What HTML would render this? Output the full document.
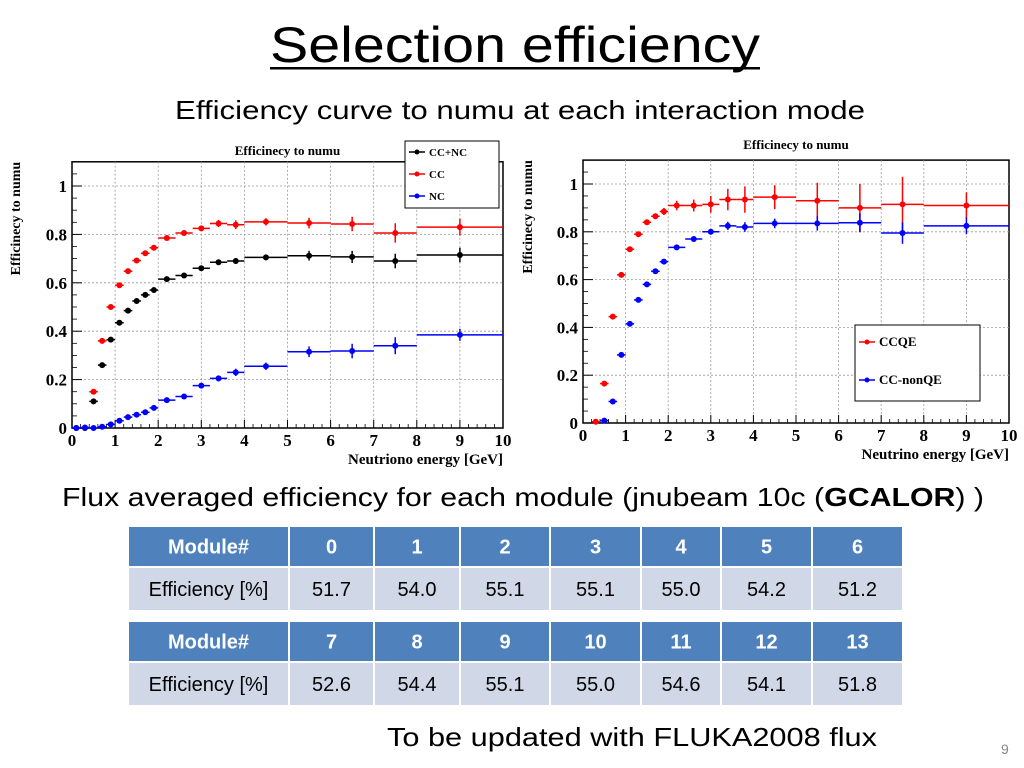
<!DOCTYPE html>
<html><head><meta charset="utf-8"><style>
html,body{margin:0;padding:0;background:#fff;width:1024px;height:768px;overflow:hidden}
svg{display:block}
.cal{font-family:"Liberation Sans",sans-serif}
.root{font-family:"Liberation Serif",serif;font-weight:bold}
</style></head><body>
<svg id="page" width="1024" height="768" viewBox="0 0 1024 768" xmlns="http://www.w3.org/2000/svg">
<text class="cal" x="270" y="62" font-size="50" textLength="490" lengthAdjust="spacingAndGlyphs">Selection efficiency</text>
<rect x="270" y="67" width="490" height="2.5" fill="#000"/>
<text class="cal" x="175" y="119" font-size="26" textLength="690" lengthAdjust="spacingAndGlyphs">Efficiency curve to numu at each interaction mode</text>
<text class="cal" x="62" y="506" font-size="26" textLength="922" lengthAdjust="spacingAndGlyphs">Flux averaged efficiency for each module (jnubeam 10c (<tspan font-weight="bold">GCALOR</tspan>) )</text>
<text class="cal" x="387" y="746" font-size="26" textLength="490" lengthAdjust="spacingAndGlyphs">To be updated with FLUKA2008 flux</text>
<text class="cal" x="1001" y="754" font-size="14" fill="#888">9</text>
<g id="tables"></g>
<g id="chartL"></g>
<g id="chartR"></g>
</svg>
<script>
// ---- data ----
const binLo = [0,0.2,0.4,0.6,0.8,1.0,1.2,1.4,1.6,1.8,2.0,2.4,2.8,3.2,3.6,4,5,6,7,8];
const binHi = [0.2,0.4,0.6,0.8,1.0,1.2,1.4,1.6,1.8,2.0,2.4,2.8,3.2,3.6,4.0,5,6,7,8,10];
const ccnc = [0,0,0.11,0.26,0.365,0.435,0.485,0.525,0.55,0.57,0.615,0.63,0.66,0.685,0.69,0.705,0.712,0.707,0.69,0.715];
const ccnc_err = [0,0,0.005,0.005,0.005,0.005,0.005,0.005,0.005,0.005,0.006,0.008,0.008,0.01,0.012,0.012,0.02,0.025,0.03,0.03];
const cc = [null,null,0.15,0.36,0.50,0.59,0.648,0.692,0.722,0.745,0.785,0.806,0.825,0.845,0.84,0.852,0.847,0.843,0.806,0.83];
const cc_err = [0,0,0.005,0.005,0.005,0.005,0.005,0.005,0.005,0.006,0.006,0.008,0.01,0.015,0.018,0.015,0.022,0.03,0.04,0.035];
const nc = [0,0.002,0,0.005,0.015,0.03,0.045,0.055,0.065,0.083,0.115,0.13,0.175,0.205,0.23,0.255,0.315,0.318,0.34,0.385];
const nc_err = [0,0,0,0.003,0.004,0.004,0.005,0.005,0.005,0.006,0.006,0.008,0.01,0.012,0.015,0.015,0.022,0.03,0.035,0.025];
const ccqe = [null,0.005,0.165,0.445,0.62,0.727,0.79,0.84,0.865,0.885,0.91,0.91,0.915,0.935,0.935,0.945,0.93,0.9,0.915,0.91];
const ccqe_err = [0,0.005,0.006,0.008,0.008,0.008,0.008,0.01,0.012,0.015,0.02,0.025,0.035,0.045,0.055,0.05,0.075,0.1,0.115,0.055];
const nonqe = [null,null,0.01,0.09,0.285,0.415,0.515,0.58,0.635,0.675,0.735,0.77,0.80,0.825,0.82,0.835,0.835,0.838,0.795,0.825];
const nonqe_err = [0,0,0.004,0.005,0.006,0.006,0.006,0.007,0.007,0.008,0.008,0.01,0.012,0.017,0.02,0.02,0.03,0.04,0.045,0.035];
const xTicks = [0,1,2,3,4,5,6,7,8,9,10];
const yTicks = [0,0.2,0.4,0.6,0.8,1];
const yTickLabels = ["0","0.2","0.4","0.6","0.8","1"];
const modules1 = ["0","1","2","3","4","5","6"];
const eff1 = ["51.7","54.0","55.1","55.1","55.0","54.2","51.2"];
const modules2 = ["7","8","9","10","11","12","13"];
const eff2 = ["52.6","54.4","55.1","55.0","54.6","54.1","51.8"];

const NS="http://www.w3.org/2000/svg";
function mk(parent,tag,attrs){const e=document.createElementNS(NS,tag);for(const k in attrs)e.setAttribute(k,attrs[k]);parent.appendChild(e);return e;}

function drawChart(g, cfg){
  const xs=v=>cfg.x0+(v/10)*(cfg.x1-cfg.x0);
  const ys=v=>cfg.y0-v*cfg.yUnit;
  const top=ys(1.1);
  let r=mk(g,'rect',{x:cfg.x0,y:top,width:cfg.x1-cfg.x0,height:cfg.y0-top,fill:'#fff',stroke:'#000','stroke-width':1.5});
  
  
  xTicks.forEach(t=>{
    if(t>0&&t<10){let l=mk(g,'line',{x1:xs(t),x2:xs(t),y1:top,y2:cfg.y0,stroke:'#999','stroke-dasharray':'2,2','stroke-width':0.8});
      
      }
    let tk=mk(g,'line',{x1:xs(t),x2:xs(t),y1:cfg.y0,y2:cfg.y0-8,stroke:'#000'});
    
    
    let tx=mk(g,'text',{x:xs(t),y:cfg.y0+18,'text-anchor':'middle','font-size':17,class:'root'});
    tx.textContent=String(t);
    
    
  });
  for(let t=0.2;t<10;t+=0.2){if(Math.abs(t-Math.round(t))<0.01)continue;
    let m=mk(g,'line',{x1:xs(t),x2:xs(t),y1:cfg.y0,y2:cfg.y0-4,stroke:'#000','stroke-width':0.8});
    
    }
  yTicks.forEach((t,i)=>{
    if(t>0){let l=mk(g,'line',{x1:cfg.x0,x2:cfg.x1,y1:ys(t),y2:ys(t),stroke:'#999','stroke-dasharray':'2,2','stroke-width':0.8});
      
      }
    let tk=mk(g,'line',{x1:cfg.x0,x2:cfg.x0+10,y1:ys(t),y2:ys(t),stroke:'#000'});
    
    
    let tx=mk(g,'text',{x:cfg.x0-5,y:ys(t)+6,'text-anchor':'end','font-size':17,class:'root'});
    tx.textContent=yTickLabels[i];
    
    
  });
  for(let t=0.05;t<1.1;t+=0.05){if(Math.abs(t*5-Math.round(t*5))<0.01)continue;
    let m=mk(g,'line',{x1:cfg.x0,x2:cfg.x0+5,y1:ys(t),y2:ys(t),stroke:'#000','stroke-width':0.8});
    
    }
  let ti=mk(g,'text',{x:(cfg.x0+cfg.x1)/2,y:cfg.titleY,'text-anchor':'middle','font-size':13,class:'root'});
  ti.textContent='Efficinecy to numu';
  
  
  let xt=mk(g,'text',{x:cfg.x1,y:cfg.y0+36,'text-anchor':'end','font-size':15,class:'root'});
  xt.textContent=cfg.xTitle;
  
  
  let yt=mk(g,'text',{x:0,y:0,'text-anchor':'end','font-size':14,class:'root',transform:`translate(${cfg.yTitleX},${top}) rotate(-90)`});
  yt.textContent='Efficinecy to numu';
  
  
  cfg.series.forEach(s=>{
    const sg=mk(g,'g',{});
    
    
    s.vals.forEach((v,i)=>{
      if(v===null)return;
      const cx=xs((binLo[i]+binHi[i])/2), cy=ys(v);
      let h=mk(sg,'line',{x1:xs(binLo[i]),x2:xs(binHi[i]),y1:cy,y2:cy,stroke:s.color,'stroke-width':1.5});
      
      
      if(s.err[i]>0){let ve=mk(sg,'line',{x1:cx,x2:cx,y1:ys(v+s.err[i]),y2:ys(v-s.err[i]),stroke:s.color,'stroke-width':1.5});
        
        }
      let p=mk(sg,'circle',{cx:cx,cy:cy,r:3,fill:s.color});
      
      
    });
  });
  const L=cfg.legend;
  let lb=mk(g,'rect',{x:L.x,y:L.y,width:L.w,height:L.h,fill:'#fff',stroke:'#000','stroke-width':1});
  
  
  cfg.series.forEach((s,i)=>{
    const yy=L.y+L.first+i*L.step;
    let ln=mk(g,'line',{x1:L.x+4,x2:L.x+20,y1:yy,y2:yy,stroke:s.color,'stroke-width':1.5});
    
    
    let c=mk(g,'circle',{cx:L.x+12,cy:yy,r:2.5,fill:s.color});
    
    
    let t=mk(g,'text',{x:L.x+24,y:yy+4,'font-size':L.fs,class:'root'});
    t.textContent=s.label;
    
    
  });
}

drawChart(document.getElementById('chartL'),{id:'left',x0:72,x1:503,y0:428,yUnit:242,titleY:155,yTitleX:20,
  xTitle:'Neutriono energy [GeV]',
  legend:{x:405,y:141,w:94,h:67,first:11,step:22,fs:11},
  series:[{name:'cc-nc',label:'CC+NC',color:'#000',vals:ccnc,err:ccnc_err},
          {name:'cc',label:'CC',color:'#f00',vals:cc,err:cc_err},
          {name:'nc',label:'NC',color:'#00f',vals:nc,err:nc_err}]});
drawChart(document.getElementById('chartR'),{id:'right',x0:583,x1:1009,y0:423,yUnit:239,titleY:149,yTitleX:532,
  xTitle:'Neutrino energy [GeV]',
  legend:{x:855,y:325,w:125,h:76,first:17,step:38,fs:13},
  series:[{name:'ccqe',label:'CCQE',color:'#f00',vals:ccqe,err:ccqe_err},
          {name:'cc-nonqe',label:'CC-nonQE',color:'#00f',vals:nonqe,err:nonqe_err}]});

// ---- tables ----
const colX=[128,289,374,460,550,641,721,812,903];
function drawTable(g,y0,mods,effs,idx){
  const rows=[{y:y0,h:39,fill:'#4F81BD',label:'Module#',vals:mods,color:'#fff',bold:true,name:'header-row'},
              {y:y0+41,h:42,fill:'#D0D8E8',label:'Efficiency [%]',vals:effs,color:'#000',bold:false,name:'efficiency-row'}];
  rows.forEach(r=>{
    for(let c=0;c<8;c++){
      let rc=mk(g,'rect',{x:colX[c]+1,y:r.y,width:colX[c+1]-colX[c]-2,height:r.h,fill:r.fill});
      
      
      let t=mk(g,'text',{x:(colX[c]+colX[c+1])/2,y:r.y+r.h/2+7,'text-anchor':'middle','font-size':20,fill:r.color,class:'cal','font-weight':r.bold?'bold':'normal'});
      t.textContent=c===0?r.label:r.vals[c-1];
      
      
    }
  });
}
const tg=document.getElementById('tables');
drawTable(tg,527,modules1,eff1,1);
drawTable(tg,622,modules2,eff2,2);
</script>
</body></html>
